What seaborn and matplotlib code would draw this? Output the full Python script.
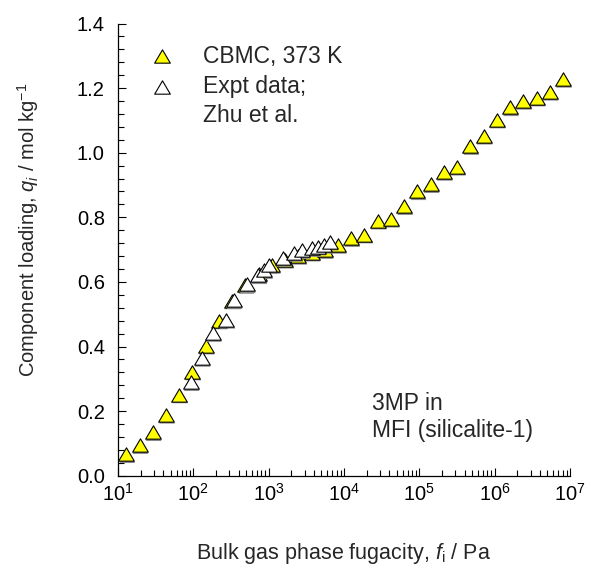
import numpy as np
import pandas as pd
import matplotlib
matplotlib.use("Agg")
import matplotlib.pyplot as plt
import matplotlib.transforms as mtransforms
import seaborn as sns
from matplotlib.path import Path
from matplotlib.ticker import LogLocator, AutoMinorLocator, NullFormatter

# ---------------- data ----------------
cbmc_f = [12.9, 19.3, 28.9, 43.4, 65.0, 97.4, 146, 219, 328, 491, 736, 1104, 1653,
          2477, 3715, 5560, 8340, 12500, 18700, 28100, 42100, 63100, 94400, 141600,
          212300, 317800, 476400, 714500, 1.069e6, 1.603e6, 2.404e6, 3.597e6,
          5.395e6, 8.09e6]
cbmc_q = [0.066, 0.094, 0.134, 0.188, 0.251, 0.322, 0.402, 0.480, 0.542, 0.590,
          0.625, 0.652, 0.668, 0.680, 0.690, 0.698, 0.714, 0.735, 0.746, 0.789,
          0.795, 0.834, 0.880, 0.902, 0.940, 0.956, 1.020, 1.052, 1.102, 1.140,
          1.160, 1.170, 1.188, 1.228]

expt_f = [92.3, 129, 183, 275, 343, 513, 731, 871, 1000, 1549, 2188, 2754, 3715,
          4467, 5495, 6457]
expt_q = [0.289, 0.364, 0.441, 0.482, 0.543, 0.592, 0.620, 0.636, 0.652, 0.674,
          0.689, 0.698, 0.704, 0.709, 0.714, 0.724]

legend_labels = ["CBMC, 373 K", "Expt data;", "Zhu et al."]
note_lines = ["3MP in", "MFI (silicalite-1)"]
x_ticks = [1e1, 1e2, 1e3, 1e4, 1e5, 1e6, 1e7]
y_ticks = [0.0, 0.2, 0.4, 0.6, 0.8, 1.0, 1.2, 1.4]

# ---------------- style ----------------
sns.set_style("ticks")
plt.rcParams["font.family"] = ["Liberation Sans", "DejaVu Sans"]
plt.rcParams["mathtext.fontset"] = "custom"
plt.rcParams["mathtext.rm"] = "Liberation Sans"
plt.rcParams["mathtext.it"] = "Liberation Sans:italic"
plt.rcParams["mathtext.bf"] = "Liberation Sans:bold"

W, H = 590, 567
fig = plt.figure(figsize=(W / 100, H / 100), dpi=100)
L, R, T, B = 118, 570, 23.5, 475.7
ax = fig.add_axes([L / W, 1 - B / H, (R - L) / W, (B - T) / H])

tri = Path([(0, 0.85), (-1, -0.85), (1, -0.85), (0, 0.85)],
           [Path.MOVETO, Path.LINETO, Path.LINETO, Path.CLOSEPOLY])
ms = 11.3
shadow = mtransforms.ScaledTranslation(0.7 / 72, -1.4 / 72, fig.dpi_scale_trans)

df_c = pd.DataFrame({"f": cbmc_f, "q": cbmc_q})
df_e = pd.DataFrame({"f": expt_f, "q": expt_q})

for df, fc, z in [(df_c, "#FFFF00", 3), (df_e, "white", 5)]:
    # soft grey drop shadow
    sns.scatterplot(data=df, x="f", y="q", marker=tri, s=ms ** 2, color="#8a8a8a",
                    edgecolor="none", linewidth=0, ax=ax, zorder=z, clip_on=False)
    ax.collections[-1].set_offset_transform(ax.transData + shadow)
    sns.scatterplot(data=df, x="f", y="q", marker=tri, s=ms ** 2, color=fc,
                    edgecolor="black", linewidth=0.8, ax=ax, zorder=z + 0.5,
                    clip_on=False)

ax.set_xscale("log")
ax.set_xlim(1e1, 1e7)
ax.set_ylim(0, 1.4)
ax.set_xticks(x_ticks)
ax.set_yticks(y_ticks)
ax.set_yticklabels([f"{v:.1f}" for v in y_ticks])
ax.xaxis.set_minor_locator(LogLocator(base=10, subs=np.arange(2, 10), numticks=50))
ax.xaxis.set_minor_formatter(NullFormatter())
ax.yaxis.set_minor_locator(AutoMinorLocator(5))

for s in ["top", "right"]:
    ax.spines[s].set_visible(False)
for s in ["left", "bottom"]:
    ax.spines[s].set_linewidth(0.9)
    ax.spines[s].set_color("black")

ax.tick_params(which="both", direction="in", width=0.8, colors="black",
               labelsize=14.5)
ax.tick_params(which="major", length=5.8)
ax.tick_params(which="minor", length=4.3)
ax.tick_params(axis="y", which="major", pad=9.5)
ax.tick_params(axis="x", which="major", pad=5)

ax.set_xlabel(r"Bulk gas phase fugacity, $f_\mathrm{i}$ / Pa", fontsize=15.5,
              labelpad=26)
ax.set_ylabel(r"Component loading, $q_i$ / mol kg$^{-1}$", fontsize=14.5)
ax.yaxis.set_label_coords((41 - L) / (R - L), (B - 230) / (B - T))

# legend (manual)
def ax_xy(px, py):
    return ((px - L) / (R - L), (B - py) / (B - T))

for (py, fc) in [(56, "#FFFF00"), (87, "white")]:
    x0, y0 = ax_xy(162, py)
    ax.plot([x0], [y0], marker=tri, markersize=ms, markerfacecolor=fc,
            markeredgecolor="black", markeredgewidth=0.8, linestyle="none",
            transform=ax.transAxes, clip_on=False)
for lab, py in zip(legend_labels, [57, 87, 115]):
    x0, y0 = ax_xy(203, py)
    ax.text(x0, y0, lab, transform=ax.transAxes, fontsize=16.5, va="center",
            ha="left")

for line, py in zip(note_lines, [403, 430]):
    x0, y0 = ax_xy(372, py)
    ax.text(x0, y0, line, transform=ax.transAxes, fontsize=16.5, va="center",
            ha="left")

fig.savefig("out.png", dpi=100)
